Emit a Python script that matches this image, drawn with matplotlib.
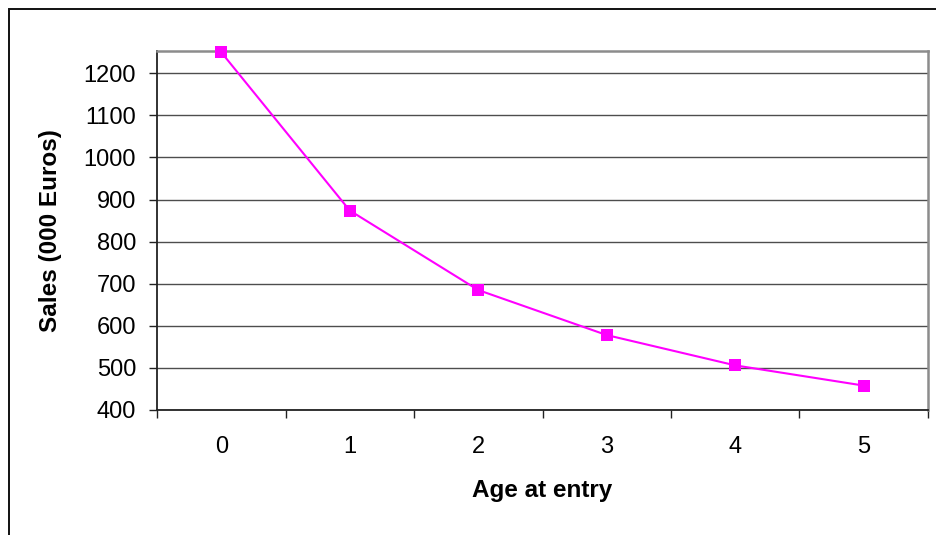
import matplotlib
matplotlib.use("Agg")
import matplotlib.pyplot as plt
from matplotlib.patches import Rectangle
from matplotlib.ticker import FixedLocator, NullFormatter

# data
ages = [0, 1, 2, 3, 4, 5]
sales = [1250, 874, 685, 578, 506, 458]
y_ticks = [400, 500, 600, 700, 800, 900, 1000, 1100, 1200]

plt.rcParams["font.family"] = ["Liberation Sans", "DejaVu Sans"]

W, H = 936, 535
fig = plt.figure(figsize=(W / 100, H / 100), dpi=100)

# outer chart frame (right / bottom edges run off the picture)
fig.patches.append(Rectangle((9 / W, -0.05), 1.2, 1 - 9 / H + 0.05,
                             transform=fig.transFigure, fill=False,
                             edgecolor="#111111", linewidth=1.4))

# plot area in pixels: left 157, right 928, top 51, bottom 410
ax = fig.add_axes([157 / W, 1 - 410 / H, (928 - 157) / W, (410 - 51) / H])

ax.plot(ages, sales, color="#ff00ff", linewidth=1.5, marker="s",
        markersize=8, markeredgewidth=0, zorder=3, clip_on=False)

ax.set_xlim(-0.5, 5.5)
ax.set_ylim(400, 1253)

# category ticks between the labels, labels at the centres
ax.xaxis.set_major_locator(FixedLocator([i - 0.5 for i in range(7)]))
ax.xaxis.set_major_formatter(NullFormatter())
ax.xaxis.set_minor_locator(FixedLocator(ages))
ax.set_xticklabels([str(a) for a in ages], minor=True)
ax.tick_params(axis="x", which="major", length=6, width=1.0, color="#222222")
ax.tick_params(axis="x", which="minor", length=0, pad=19, labelsize=17)

ax.set_yticks(y_ticks)
ax.tick_params(axis="y", length=6, width=1.0, color="#222222", pad=9,
               labelsize=17)

ax.grid(axis="y", color="#4d4d4d", linewidth=1.0)
ax.set_axisbelow(True)

for side in ("top", "right"):
    ax.spines[side].set_color("#8c8c8c")
    ax.spines[side].set_linewidth(1.8)
for side in ("left", "bottom"):
    ax.spines[side].set_color("#222222")
    ax.spines[side].set_linewidth(1.3)

ax.set_xlabel("Age at entry", fontsize=17.5, fontweight="bold")
ax.xaxis.set_label_coords(0.5, (410 - 479) / 359)
ax.set_ylabel("Sales (000 Euros)", fontsize=17.5, fontweight="bold")
ax.yaxis.set_label_coords((62 - 157) / 771, 0.5)

fig.savefig("out.png", dpi=100)
